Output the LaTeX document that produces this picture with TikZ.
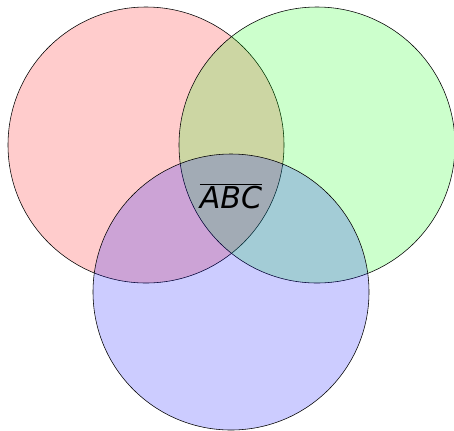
\documentclass[tikz,border=0pt]{standalone}
\usepackage{fontspec}
\newfontfamily\vennfont{DejaVu Sans}
\usepackage{tikz}

\begin{document}
\begin{tikzpicture}[x=0.025cm, y=-0.025cm]
  \tikzset{
    set/.style={draw=black, fill opacity=0.2},
    lab/.style={font=\vennfont\itshape\fontsize{21.4}{24}\selectfont, inner sep=0pt}
  }
  \useasboundingbox (0,0) rectangle (454,430);
  % the three sets
  \draw[set, fill=red]   (146,145) circle (138);
  \draw[set, fill=green] (317,145) circle (138);
  \draw[set, fill=blue]  (231,292) circle (138);
  % middle region
  \node[lab] (abc) at (231,196) {$\overline{\mbox{ABC}}$};
\end{tikzpicture}
\end{document}
